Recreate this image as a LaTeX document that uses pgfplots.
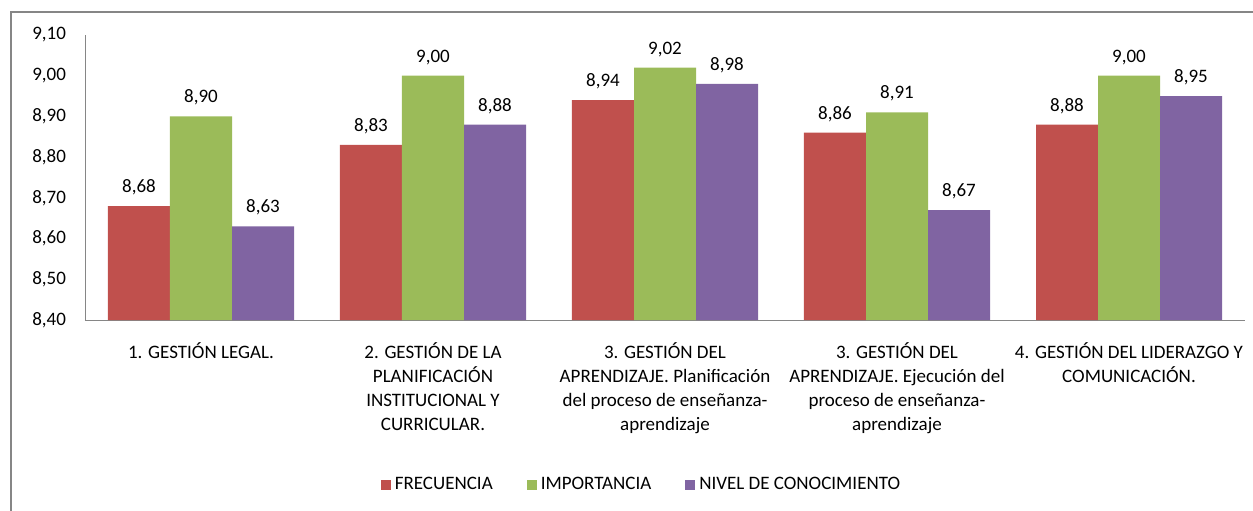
\documentclass[border=0pt]{standalone}
\usepackage{fontspec}
\setmainfont{Carlito}
\usepackage{pgfplots}
\pgfplotsset{compat=1.18}

\definecolor{frec}{HTML}{C0504D}
\definecolor{impo}{HTML}{9BBB59}
\definecolor{nivel}{HTML}{8064A2}
\definecolor{axisgray}{HTML}{868686}

\begin{document}
\begin{tikzpicture}[x=0.5pt,y=0.5pt]
  % picture is 1253 x 510 px, 1 px = 0.5pt
  \useasboundingbox (0,0) rectangle (1253,510);
  % chart area border (right and bottom edges are cut off)
  \draw[axisgray, line width=1pt] (11,498) -- (1300,498) -- (1300,-20) -- (11,-20) -- cycle;

  \begin{axis}[
      at={(42.5pt,95pt)}, anchor=south west,
      scale only axis,
      width=580pt, height=142.5pt,
      ybar=0pt, bar width=31pt,
      xmin=-0.5, xmax=4.5,
      ymin=8.4, ymax=9.1,
      ytick={8.4,8.5,...,9.1},
      xtick={0,1,2,3,4},
      xticklabels={
        {1. GESTIÓN LEGAL.},
        {2. GESTIÓN DE LA\\PLANIFICACIÓN\\INSTITUCIONAL Y\\CURRICULAR.},
        {3. GESTIÓN DEL\\APRENDIZAJE. Planificación\\del proceso de enseñanza-\\aprendizaje},
        {3. GESTIÓN DEL\\APRENDIZAJE. Ejecución del\\proceso de enseñanza-\\aprendizaje},
        {4. GESTIÓN DEL LIDERAZGO Y\\COMUNICACIÓN.}},
      axis x line*=bottom, axis y line*=left,
      axis line style={axisgray, -},
      major tick length=0pt,
      font=\fontsize{9.5}{12}\selectfont,
      xticklabel style={align=center, anchor=north, yshift=-8pt},
      yticklabel style={xshift=-6pt,
        /pgf/number format/.cd, fixed, fixed zerofill, precision=2, use comma},
      /pgf/number format/assume math mode=true,
      nodes near coords,
      nodes near coords style={font=\fontsize{9.5}{12}\selectfont, black, yshift=2pt,
        /pgf/number format/.cd, fixed, fixed zerofill, precision=2, use comma,
        assume math mode=true},
      legend style={draw=none, at={(0.4806,-0.579)}, anchor=center,
        legend columns=3, font=\fontsize{9.5}{12}\selectfont,
        /tikz/every even column/.append style={column sep=15pt}},
      legend image code/.code={\fill[#1] (0pt,-2.5pt) rectangle (5pt,2.5pt);},
    ]
    \addplot[fill=frec, draw=none] coordinates {(0,8.68) (1,8.83) (2,8.94) (3,8.86) (4,8.88)};
    \addplot[fill=impo, draw=none] coordinates {(0,8.90) (1,9.00) (2,9.02) (3,8.91) (4,9.00)};
    \addplot[fill=nivel, draw=none] coordinates {(0,8.63) (1,8.88) (2,8.98) (3,8.67) (4,8.95)};
    \legend{FRECUENCIA, IMPORTANCIA, NIVEL DE CONOCIMIENTO}
  \end{axis}
\end{tikzpicture}
\end{document}
